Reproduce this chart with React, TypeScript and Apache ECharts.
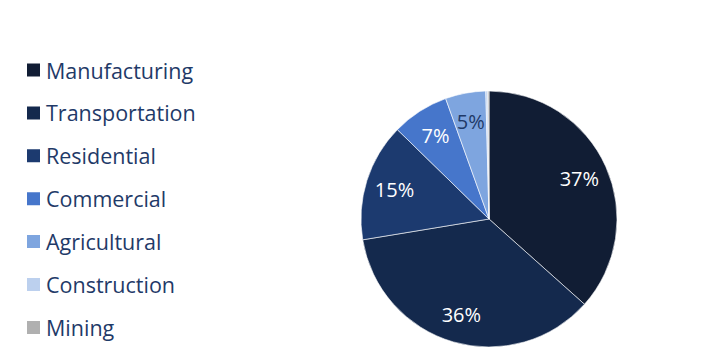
import React, { useEffect, useRef } from "react";
import * as echarts from "echarts";

const categories = ["Manufacturing", "Transportation", "Residential", "Commercial", "Agricultural", "Construction", "Mining"];
const values = [36.6, 35.8, 14.9, 7.2, 5.1, 0.25, 0.15];
const colors = ["#111d34", "#14294d", "#1c3a6f", "#4676cb", "#7ea5df", "#bcd0ee", "#b0b0b0"];
const labelColors = ["#ffffff", "#ffffff", "#ffffff", "#ffffff", "#1f3a68", "#1f3a68", "#1f3a68"];

export default function App() {
  const ref = useRef<HTMLDivElement>(null);
  useEffect(() => {
    document.body.style.margin = "0";
    const chart = echarts.init(ref.current!, undefined, { renderer: "svg" });
    const total = values.reduce((a, b) => a + b, 0);
    const data = categories.map((name, i) => ({ name, value: values[i], itemStyle: { color: colors[i] } }));
    const labelData = categories.map((name, i) => ({
      name,
      value: values[i],
      label: { color: labelColors[i] },
    }));
    chart.setOption({
      animation: false,
      legend: {
        orient: "vertical",
        left: 25,
        top: 59,
        padding: 0,
        icon: "rect",
        itemWidth: 15,
        itemHeight: 15,
        itemGap: 20.9,
        data: categories,
        textStyle: { fontFamily: "Open Sans", fontSize: 21.5, color: "#1f3a68", lineHeight: 20, padding: [0, 0, 0, 0] },
      },
      series: [
        {
          type: "pie",
          center: [489, 219],
          radius: [0, 128],
          startAngle: 90,
          clockwise: true,
          label: { show: false },
          labelLine: { show: false },
          itemStyle: { borderColor: "#ffffff", borderWidth: 0.6 },
          data,
        },
        {
          type: "pie",
          center: [489, 219],
          radius: [64, 128],
          startAngle: 90,
          clockwise: true,
          silent: true,
          legendHoverLink: false,
          itemStyle: { color: "rgba(0,0,0,0)" },
          label: {
            show: true,
            position: "inside",
            fontFamily: "Open Sans",
            fontSize: 20,
            formatter: (p: any) => {
              const pct = Math.round((p.value / total) * 100);
              return pct >= 1 ? pct + "%" : "";
            },
          },
          labelLine: { show: false },
          data: labelData,
        },
      ],
    });
    return () => chart.dispose();
  }, []);
  return <div ref={ref} style={{ width: 701, height: 359 }} />;
}
